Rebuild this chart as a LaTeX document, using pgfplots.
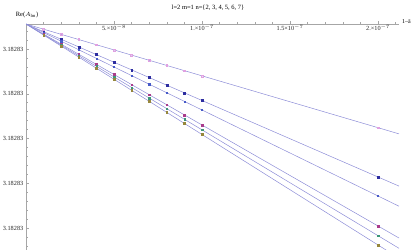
\documentclass[border=0pt]{standalone}
\usepackage{pgfplots}
\pgfplotsset{compat=1.18}
\usepackage{fontspec}
\setmainfont{Liberation Serif}
\definecolor{lineC}{RGB}{140,140,215}
\definecolor{cPink}{RGB}{225,160,225}
\definecolor{cBlueL}{RGB}{45,45,160}
\definecolor{cBlueS}{RGB}{70,90,200}
\definecolor{cMag}{RGB}{170,60,140}
\definecolor{cGreen}{RGB}{60,150,120}
\definecolor{cOlive}{RGB}{150,135,60}
\begin{document}
\begin{tikzpicture}
\begin{axis}[
  scale only axis,
  width=373bp, height=226bp,
  xmin=0, xmax=21.19, ymin=-226, ymax=0,
  axis lines=middle,
  axis line style={-, gray!70, line width=0.4pt},
  tick style={gray!70, line width=0.4pt},
  tick align=inside,
  major tick length=3bp, minor tick length=1.8bp,
  xtick={5,10,15,20},
  xticklabels={5.×10$^{-8}$,1.×10$^{-7}$,1.5×10$^{-7}$,2.×10$^{-7}$},
  minor xtick={1,2,3,4,6,7,8,9,11,12,13,14,16,17,18,19,21},
  ytick={-25,-69.75,-114.5,-159.25,-204},
  yticklabels={3.18283,3.18283,3.18283,3.18283,3.18283},
  minor ytick={-7.1,-16.05,-33.95,-42.9,-51.85,-60.8,-78.7,-87.65,-96.6,-105.55,-123.45,-132.4,-141.35,-150.3,-168.2,-177.15,-186.1,-195.05,-212.95,-221.9},
  tick label style={font=\fontsize{6.3}{7}\selectfont, text=black!85},
  xticklabel style={anchor=north, yshift=0.5bp, inner sep=1bp},
  yticklabel style={anchor=east, inner sep=0pt, xshift=-2.5bp},
  clip=true,
]
\coordinate (sw) at (rel axis cs:0,0);
\coordinate (ne) at (rel axis cs:1,1);
% fit lines
\addplot[lineC, line width=0.5pt] coordinates {(0,0) (21.19,-109.87)};
\addplot[lineC, line width=0.5pt] coordinates {(0,0) (21.19,-162.10)};
\addplot[lineC, line width=0.5pt] coordinates {(0,0) (21.19,-182.23)};
\addplot[lineC, line width=0.5pt] coordinates {(0,0) (21.19,-214.02)};
\addplot[lineC, line width=0.5pt] coordinates {(0,0) (21.19,-224.30)};
\addplot[lineC, line width=0.5pt] coordinates {(0,0) (21.19,-234.15)};
% data points
\addplot[only marks, mark=square, mark size=0.9bp, cPink, mark options={line width=0.45pt}] coordinates {
(1,-5.19) (2,-10.37) (3,-15.56) (4,-20.74) (5,-25.93) (6,-31.11) (7,-36.30) (8,-41.48) (9,-46.67) (10,-51.85) (20,-103.7)};
\addplot[only marks, mark=square*, mark size=0.9bp, cBlueL] coordinates {
(1,-7.65) (2,-15.30) (3,-22.95) (4,-30.60) (5,-38.25) (6,-45.90) (7,-53.55) (8,-61.20) (9,-68.85) (10,-76.50) (20,-153.0)};
\addplot[only marks, mark=square*, mark size=0.6bp, cBlueS] coordinates {
(1,-8.60) (2,-17.20) (3,-25.80) (4,-34.40) (5,-43.00) (6,-51.60) (7,-60.20) (8,-68.80) (9,-77.40) (10,-86.00) (20,-172.0)};
\addplot[only marks, mark=square*, mark size=0.85bp, cMag] coordinates {
(1,-10.10) (2,-20.20) (3,-30.30) (4,-40.40) (5,-50.50) (6,-60.60) (7,-70.70) (8,-80.80) (9,-90.90) (10,-101.0) (20,-202.0)};
\addplot[only marks, mark=square*, mark size=0.7bp, cGreen] coordinates {
(1,-10.59) (2,-21.17) (3,-31.76) (4,-42.34) (5,-52.93) (6,-63.51) (7,-74.10) (8,-84.68) (9,-95.27) (10,-105.85) (20,-211.7)};
\addplot[only marks, mark=square*, mark size=0.8bp, cOlive] coordinates {
(1,-11.05) (2,-22.10) (3,-33.15) (4,-44.20) (5,-55.25) (6,-66.30) (7,-77.35) (8,-88.40) (9,-99.45) (10,-110.5) (20,-221.0)};
\end{axis}
\node[font=\fontsize{6.5}{7}\selectfont, anchor=north] at ([xshift=182bp,yshift=22.5bp]sw |- ne) {l=2 m=1 n=\{2, 3, 4, 5, 6, 7\}};
\node[font=\fontsize{6.5}{7}\selectfont, anchor=south, inner sep=1bp] at ([xshift=1bp,yshift=5bp]sw |- ne) {Re($A_{\mathrm{lm}}$)};
\node[font=\fontsize{6}{7}\selectfont, anchor=west, inner sep=0pt] at ([xshift=3bp,yshift=2bp]ne) {1–ā};
\pgfresetboundingbox
\path[use as bounding box] ([xshift=-26bp]sw) rectangle ([xshift=16bp,yshift=24bp]ne);
\end{tikzpicture}
\end{document}
